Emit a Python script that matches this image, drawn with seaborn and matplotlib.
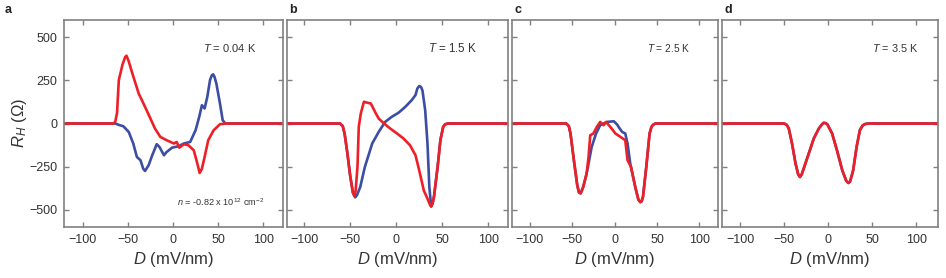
import numpy as np
import pandas as pd
import matplotlib
matplotlib.use("Agg")
import matplotlib.pyplot as plt
import seaborn as sns

# ---- data (D in mV/nm, R_H in Ohm) ----
a_red_D = [-120, -66, -64, -62, -60, -56, -53, -51.5, -49, -45, -38, -31, -25, -20, -14, -7, 1,
           4, 7, 12, 17, 23, 27, 29.5, 32, 35, 39, 45, 52, 59, 122]
a_red_R = [0, 0, 9, 60, 252, 340, 385, 393, 360, 290, 174, 97, 29, -29, -78, -97, -116, -107,
           -140, -120, -126, -155, -233, -287, -262, -194, -97, -39, -4, 0, 0]

a_blue_D = [-120, -64, -60, -55, -49, -44, -40, -36, -33, -31, -27, -23, -18, -15, -10, -7, -1,
            6, 12, 19, 25, 29, 32, 35, 38, 41, 43, 44.5, 46, 48, 52, 55, 58, 122]
a_blue_R = [0, 0, -8, -16, -49, -116, -194, -213, -262, -275, -242, -184, -120, -136, -184, -165,
            -140, -132, -116, -107, -39, 38, 106, 87, 155, 252, 280, 285, 270, 232, 116, 19, 0, 0]

b_red_D = [-120, -61, -58, -56, -53, -50, -47, -45.5, -44, -42, -40.6, -38.4, -35, -31, -27.5,
           -23, -19, -14, -6.5, 1, 8, 15, 21, 25, 30, 34, 37, 38, 39.5, 41, 45, 48, 51, 53, 56, 122]
b_red_R = [0, 0, -15, -58, -170, -300, -400, -420, -390, -252, -19, 58, 126, 120, 116, 68, 29, 4,
           -29, -58, -87, -126, -184, -271, -388, -436, -475, -481, -465, -426, -252, -97, -20,
           -5, 0, 0]

b_blue_D = [-120, -61, -58, -56, -53, -50, -47, -44.5, -42.5, -39, -34, -26, -19, -12, -5, 2.5,
            10, 17, 21, 23, 25, 27, 28.6, 31.5, 34, 36, 38, 39.5, 41, 45, 48, 51, 53, 56, 122]
b_blue_R = [0, 0, -15, -58, -170, -300, -400, -428, -415, -368, -252, -116, -49, 9, 38, 62, 97,
            136, 165, 203, 217, 212, 190, 77, -116, -368, -481, -465, -426, -252, -97, -20, -5,
            0, 0]

c_red_D = [-121, -57, -54, -52, -48, -44, -42, -40, -37, -33, -30.7, -28.7, -25, -21, -17, -13,
           -10, -5, 1, 7, 12.6, 15.3, 19.4, 24.4, 28, 30.3, 32, 33.5, 37.4, 41.3, 43.5, 45.3,
           48, 122]
c_red_R = [0, 0, -15, -58, -213, -359, -400, -405, -368, -291, -194, -68, -58, -20, 9, -10, 9,
           -20, -58, -78, -97, -213, -252, -368, -440, -456, -450, -426, -252, -58, -20, -8, 0, 0]

c_blue_D = [-121, -57, -54, -52, -48, -44, -42, -40, -37, -33, -27, -22, -17, -9, -1, 3, 6, 9,
            12.6, 15.3, 18.5, 24.4, 28, 30.3, 32, 33.5, 37.4, 41.3, 43.5, 45.3, 48, 122]
c_blue_R = [0, 0, -15, -58, -213, -359, -400, -405, -368, -291, -136, -60, -10, 9, 13, -6, -29,
            -49, -58, -116, -233, -368, -440, -456, -450, -426, -252, -58, -20, -8, 0, 0]

d_red_D = [-121, -50, -47, -44.7, -41, -37, -34, -32, -30, -28.4, -22, -16.3, -10.6, -7, -5,
           -3, -1, 4.5, 10, 16, 20.5, 23, 25, 28.4, 32.3, 36, 39, 42, 46, 125]
d_red_R = [0, 0, -8, -29, -116, -233, -295, -310, -295, -271, -174, -87, -29, -5, 4, 2, -4,
           -58, -155, -271, -332, -345, -335, -271, -136, -39, -12, -3, 0, 0]

d_blue_D = [-121, -50, -47, -44.7, -41, -37, -34, -32, -30, -28.4, -22, -16.3, -10.6, -7, -5,
            -3, -1, 4.5, 10, 16, 20.5, 23, 25, 28.4, 32.3, 36, 39, 42, 46, 125]
d_blue_R = [0, 0, -8, -29, -116, -233, -295, -310, -295, -271, -174, -87, -29, -5, 4, 2, -4,
            -58, -155, -271, -332, -345, -335, -271, -136, -39, -12, -3, 0, 0]

panels = [
    ("a", a_blue_D, a_blue_R, a_red_D, a_red_R, "0.04"),
    ("b", b_blue_D, b_blue_R, b_red_D, b_red_R, "1.5"),
    ("c", c_blue_D, c_blue_R, c_red_D, c_red_R, "2.5"),
    ("d", d_blue_D, d_blue_R, d_red_D, d_red_R, "3.5"),
]
x_ticks = [-100, -50, 0, 50, 100]
y_ticks = [-500, -250, 0, 250, 500]

BLUE = "#3b4ea3"
RED = "#ee1f26"
GRAY = "#808080"
TXT = "#333333"

sns.set_theme(style="ticks")
plt.rcParams["font.family"] = ["Liberation Sans", "DejaVu Sans"]
plt.rcParams["mathtext.fontset"] = "custom"
plt.rcParams["mathtext.rm"] = "Liberation Sans"
plt.rcParams["mathtext.it"] = "Liberation Sans:italic"

W, H = 946, 278
fig = plt.figure(figsize=(W / 100, H / 100), dpi=100)

# panel boxes in pixels (left, right), x-limits, T label x and size
boxes = [(64, 283, (-120.7, 121.8), 203, 8.0),
         (287, 508, (-118.5, 121.4), 428, 8.3),
         (512, 718, (-121, 122), 647, 7.3),
         (722, 938, (-120.5, 124.7), 872, 7.8)]
top, bottom = 20, 227

for (letter, bD, bR, rD, rR, temp), (l, r, xlim, tx, tsize) in zip(panels, boxes):
    ax = fig.add_axes([l / W, 1 - bottom / H, (r - l) / W, (bottom - top) / H])
    sns.lineplot(x=bD, y=bR, ax=ax, sort=False, estimator=None, color=BLUE, lw=1.9)
    sns.lineplot(x=rD, y=rR, ax=ax, sort=False, estimator=None, color=RED, lw=1.9)
    ax.set_xlim(*xlim)
    ax.set_ylim(-600, 600)
    ax.set_xticks(x_ticks)
    ax.set_yticks(y_ticks)
    for s in ax.spines.values():
        s.set_visible(True)
        s.set_color(GRAY)
        s.set_linewidth(1.2)
    ax.tick_params(direction="in", length=3.5, width=1, color=GRAY, top=True, right=True,
                   labelsize=9, labelcolor=TXT, pad=5)
    ax.set_xlabel(r"$D$ (mV/nm)", fontsize=12, color=TXT, labelpad=3)
    if letter == "a":
        ax.set_ylabel(r"$R_H$ ($\Omega$)", fontsize=12, color=TXT, labelpad=0)
        ax.set_yticklabels([f"{v}".replace("-", "\u2212") for v in y_ticks])
    else:
        ax.set_ylabel("")
        ax.set_yticklabels([])
    fig.text((l - 59 if letter == "a" else l + 2) / W, 1 - 10 / H, letter, fontsize=9,
             fontweight="bold", color="#222222", va="center", ha="left")
    fig.text(tx / W, 1 - 48 / H, r"$T$ = " + temp + " K", fontsize=tsize, color=TXT,
             va="center", ha="left")

fig.text(177 / W, 1 - 202 / H, r"$n$ = -0.82 x 10$^{12}$ cm$^{-2}$", fontsize=6.6,
         color=TXT, va="center", ha="left")

fig.savefig("out.png", dpi=100)
